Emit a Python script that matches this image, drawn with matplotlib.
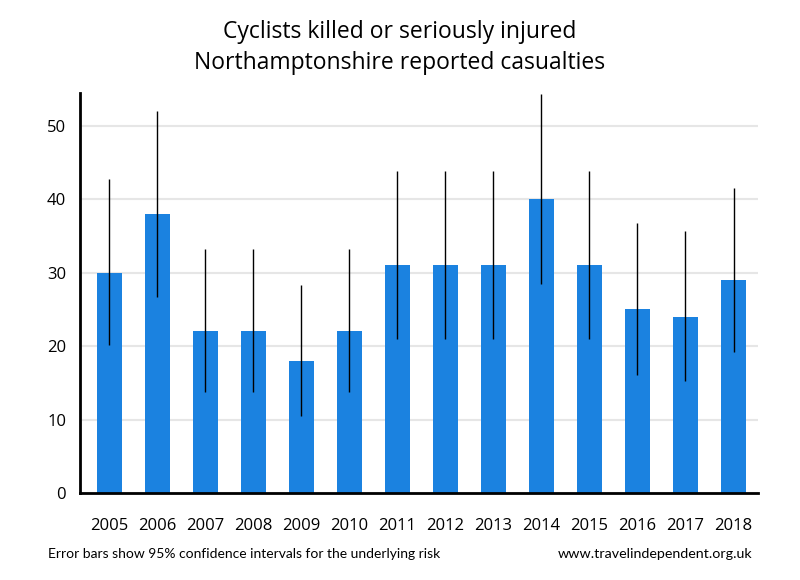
import numpy as np
import matplotlib
matplotlib.use("Agg")
import matplotlib.pyplot as plt

YEARS = ["2005", "2006", "2007", "2008", "2009", "2010", "2011",
         "2012", "2013", "2014", "2015", "2016", "2017", "2018"]
KSI = [30, 38, 22, 22, 18, 22, 31, 31, 31, 40, 31, 25, 24, 29]
CI_LOW = [20.1, 26.7, 13.7, 13.7, 10.5, 13.7, 21.0,
          21.0, 21.0, 28.5, 21.0, 16.1, 15.3, 19.2]
CI_HIGH = [42.8, 52.0, 33.2, 33.2, 28.3, 33.2, 43.9,
           43.9, 43.9, 54.4, 43.9, 36.8, 35.7, 41.6]

BLUE = "#1b82e0"
FONT = "Open Sans"


def main():
    fig = plt.figure(figsize=(8, 5.8), dpi=100)
    ax = fig.add_axes([0.1, 0.15, 0.8475, 0.69])

    x = np.arange(len(YEARS))
    vals = np.array(KSI, dtype=float)
    yerr = [vals - np.array(CI_LOW), np.array(CI_HIGH) - vals]
    ax.bar(x, vals, width=0.51, color=BLUE, zorder=2)
    ax.errorbar(x, vals, yerr=yerr, fmt="none", ecolor="black",
                elinewidth=1, capsize=0, zorder=3)

    ax.set_xlim(-0.61, 13.51)
    ax.set_ylim(0, 54.5)
    ax.set_yticks([0, 10, 20, 30, 40, 50])
    ax.set_xticks(x)
    ax.set_xticklabels(YEARS)
    ax.grid(axis="y", color="#e6e6e6", lw=1.5, zorder=0)
    ax.set_axisbelow(True)

    for s in ["top", "right"]:
        ax.spines[s].set_visible(False)
    for s in ["left", "bottom"]:
        ax.spines[s].set_linewidth(2)
    ax.tick_params(axis="both", length=0, labelsize=12)
    ax.tick_params(axis="x", pad=18)
    ax.tick_params(axis="y", pad=10)
    for lab in ax.get_xticklabels() + ax.get_yticklabels():
        lab.set_fontfamily(FONT)

    fig.text(0.5, 0.944, "Cyclists killed or seriously injured",
             ha="center", va="center", fontsize=16.5, family=FONT)
    fig.text(0.5, 0.892, "Northamptonshire reported casualties",
             ha="center", va="center", fontsize=16.5, family=FONT)

    fig.text(0.06, 0.044, "Error bars show 95% confidence intervals for the underlying risk",
             ha="left", va="center", fontsize=10, family="Lato")
    fig.text(0.94, 0.044, "www.travelindependent.org.uk",
             ha="right", va="center", fontsize=10.3, family="Lato")

    fig.savefig("out.png", dpi=100)
    plt.close(fig)


if __name__ == "__main__":
    main()
